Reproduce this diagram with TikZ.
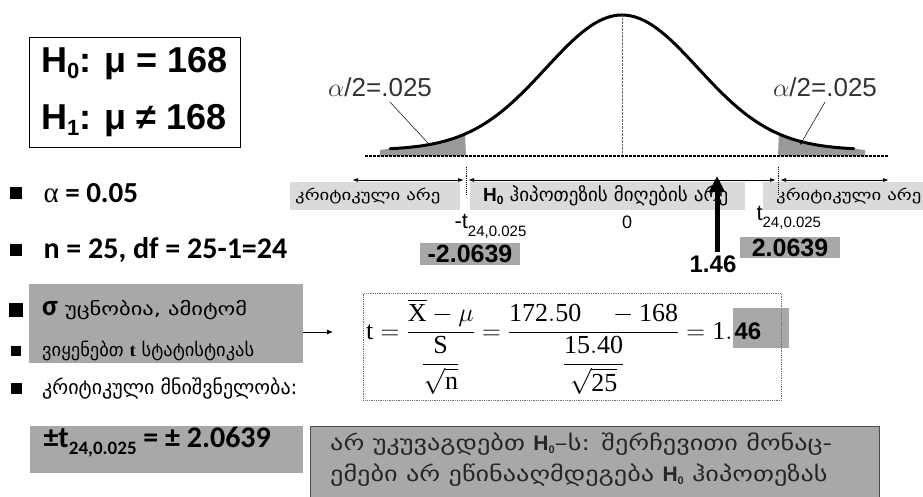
\RequirePackage{fix-cm}
\documentclass[tikz,border=0pt]{standalone}
\usepackage{amsmath}
\usepackage{fontspec}
\usepackage{tikz}
\usetikzlibrary{arrows.meta,positioning,calc}
\setmainfont{Liberation Serif}
\setsansfont{Liberation Sans}
\newfontfamily\calfont{Carlito}
\newfontfamily\geofont{DejaVu Sans}
\newfontfamily\geowide[FakeStretch=1.25]{DejaVu Sans}
\definecolor{BarGray}{HTML}{DADADA}
\definecolor{BoxGray}{HTML}{A8A8A8}
\definecolor{TailGray}{HTML}{999999}
\definecolor{FrameGray}{HTML}{707070}
\newcommand{\hsub}[1]{\raisebox{-6pt}{\fontsize{22}{22}\selectfont #1}}
\newcommand{\lowsub}[1]{\raisebox{-7pt}{\fontsize{15}{15}\selectfont #1}}
\newcommand{\Hnull}[1][11]{{\sffamily\bfseries H\raisebox{-3pt}{\fontsize{#1}{#1}\selectfont 0}}}

\begin{document}
\begin{tikzpicture}[x=1pt,y=-1pt,
    frame/.style={draw=black,line width=1pt,inner sep=0pt},
    bar/.style={fill=BarGray,minimum height=28pt,inner sep=0pt,anchor=north west},
    valbox/.style={fill=BoxGray,inner sep=0pt,minimum height=22pt,minimum width=100pt,
                   font=\sffamily\bfseries\fontsize{25}{25}\selectfont},
    graybox/.style={fill=BoxGray,inner sep=0pt,anchor=north west},
    bullet/.style={fill=black,inner sep=0pt},
    region/.style={{Latex[length=6pt,width=4pt]}-{Latex[length=6pt,width=4pt]},line width=0.9pt},
    tickline/.style={densely dotted,line width=0.9pt},
    geo/.style={anchor=west,inner sep=0pt,font=\geofont\fontsize{19}{19}\selectfont},
    critlab/.style={geo,font=\geowide\fontsize{15}{15}\selectfont},
    curve/.style={line width=3pt,line cap=round},
    alabel/.style={font=\sffamily\fontsize{26}{26}\selectfont,text=black!80},
    bigarrow/.style={line width=5pt,-{Triangle[length=16pt,width=15pt]}}
]
\useasboundingbox (0,0) rectangle (923,497);

% hypotheses
\node[frame,minimum width=211pt,minimum height=110pt,align=left,
      font=\sffamily\bfseries\fontsize{36}{57}\selectfont] (hyp) at (134.5,92.5)
  {H\hsub{0}: μ = 168\\H\hsub{1}: μ ≠ 168};

% t curve with the two tails
\fill[TailGray] (380,156) -- (380,150)
  -- plot[domain=-3.05:-2.0639,samples=25] ({622+76*\x},{150-135*exp(-0.5*(\x)*(\x))})
  -- (466,156) -- cycle;
\fill[TailGray] (778,156)
  -- plot[domain=2.0639:3.05,samples=25] ({622+76*\x},{150-135*exp(-0.5*(\x)*(\x))})
  -- (865,150) -- (865,156) -- cycle;
\draw[curve] plot[domain=-3.05:3.05,samples=121,smooth] ({622+76*\x},{150-135*exp(-0.5*(\x)*(\x))});
\coordinate (peak) at (622,15);
\coordinate (zero) at (622,156);
\draw[densely dotted,black!60] (peak) -- (zero);
\coordinate (axL) at (365,156);
\coordinate (axR) at (889,156);
\draw[line width=2.5pt,dash pattern=on 3pt off 1pt] (axL) -- (axR);

\node[alabel] (aL) at (380,87) {$\alpha$/2=.025};
\node[alabel] (aR) at (825,87) {$\alpha$/2=.025};
\coordinate (tailL) at (428,143);
\coordinate (tailR) at (800,145);
\draw[line width=0.5pt] ([xshift=10pt,yshift=-2pt]aL.south) -- (tailL);
\draw[line width=0.5pt,-{Latex[length=5pt,width=4pt]}] ([yshift=-2pt]aR.south) -- (tailR);

% regions under the axis
\node[bar,minimum width=170pt] (critL) at (290,182) {};
\node[bar,minimum width=275pt] (accept) at (470,182) {};
\node[bar,minimum width=160pt] (critR) at (763,182) {};
\node[critlab] (critLlab) at ([xshift=5pt]critL.west) {კრიტიკული არე};
\node[geo] (acceptlab) at ([xshift=13pt]accept.west) {\Hnull[12] ჰიპოთეზის მიღების არე};
\node[critlab] (critRlab) at ([xshift=13pt]critR.west) {კრიტიკული არე};

\coordinate (rL) at (352,180);
\coordinate (tL) at (466,180);
\coordinate (tR) at (778,180);
\coordinate (rR) at (889,180);
\draw[region] (rL) -- ([xshift=-2pt]tL);
\draw[region] ([xshift=2pt]tL) -- ([xshift=-2pt]tR);
\draw[region] ([xshift=2pt]tR) -- (rR);
\foreach \t in {tL,tR}
  \draw[tickline] ([yshift=13pt]\t) -- ([yshift=-14pt]\t);

% critical values and the statistic
\node[anchor=base west,font=\sffamily\fontsize{22}{22}\selectfont] (tneg) at (451,229) {-t\lowsub{24,0.025}};
\node[anchor=base west,font=\sffamily\fontsize{22}{22}\selectfont] (tpos) at (753,220) {t\lowsub{24,0.025}};
\node[font=\sffamily\fontsize{18}{18}\selectfont] (zerolab) at (627,222) {0};
\node[valbox] (tnegval) at (470,254) {-2.0639};
\node[valbox,minimum height=21pt] (tposval) at (790,247.5) {2.0639};
\node[font=\sffamily\bfseries\fontsize{24}{24}\selectfont] (stat) at (713,264) {1.46};
\coordinate (statTip) at (717,176);
\draw[bigarrow] (stat.north -| statTip) -- (statTip);

% left column
\foreach \y/\s in {193/12,250/12,310/14,351/10,388/11}
  \node[bullet,minimum size=\s pt] (dot\y) at (16,\y) {};
\node[anchor=west,font=\calfont\bfseries\fontsize{29}{29}\selectfont] (alpha) at (40,193)
  {{\rmfamily\mdseries α} = 0.05};
\node[anchor=west,font=\calfont\bfseries\fontsize{30}{30}\selectfont] (ndf) at (40,250)
  {n = 25, df = 25-1=24};
\node[graybox,minimum width=274pt,minimum height=79pt] (sigbox) at (29,284) {};
\node[geo,font=\geowide\fontsize{18}{18}\selectfont] (sigma) at (42,310)
  {{\calfont\bfseries\fontsize{29}{29}\selectfont σ} უცნობია, ამიტომ};
\node[geo,font=\geofont\fontsize{18.5}{18.5}\selectfont] (tuse) at (42,351)
  {ვიყენებთ {\rmfamily\bfseries t} სტატისტიკას};
\node[geo,font=\geofont\fontsize{20}{20}\selectfont] (critval) at (42,388) {კრიტიკული მნიშვნელობა:};
\node[graybox,minimum width=273pt,minimum height=47pt] (critbox) at (30,426) {};
\node[anchor=west,font=\calfont\bfseries\fontsize{30}{30}\selectfont] (tcrit) at (40,442)
  {±t\raisebox{-7pt}{\fontsize{19}{19}\selectfont 24,0.025} = ± 2.0639};
\coordinate (arrowEnd) at (333,332);
\draw[-{Latex[length=6pt,width=5pt]},line width=0.8pt] (sigbox.east |- arrowEnd) -- (arrowEnd);

% t statistic
\node[anchor=base west,inner sep=0pt,font=\fontsize{26}{30}\selectfont] (formula) at (366,339)
  {$\mathrm{t}=\dfrac{\overline{\mathrm{X}}-\mu}{\dfrac{\mathrm{S}}{\sqrt{\mathrm{n}}}}
   =\dfrac{\mathrm{172.50}\quad-\mathrm{168}}{\dfrac{\mathrm{15.40}}{\sqrt{\mathrm{25}}}}=\mathrm{1.}$%
   {\fboxsep=0pt\colorbox{BoxGray}{\rule[-9pt]{0pt}{40pt}\hspace{2pt}\sffamily\bfseries\fontsize{24}{24}\selectfont 46\hspace{28pt}}}};
\node[draw=FrameGray,densely dotted,line width=0.8pt,anchor=north west,inner sep=0pt,
      minimum width=418pt,minimum height=107pt] (fbox) at (363,293) {};

% decision
\node[graybox,draw=black!70,line width=0.8pt,minimum width=569pt,minimum height=75pt] (verdict) at (310,426) {};
\node[anchor=north west,align=left,inner sep=0pt,font=\geowide\fontsize{21}{31}\selectfont,text=black!85]
  (verdtext) at (330,433)
  {არ უკუვაგდებთ \Hnull–ს: შერჩევითი მონაც-\\ემები არ ეწინააღმდეგება \Hnull{} ჰიპოთეზას};
\end{tikzpicture}
\end{document}
